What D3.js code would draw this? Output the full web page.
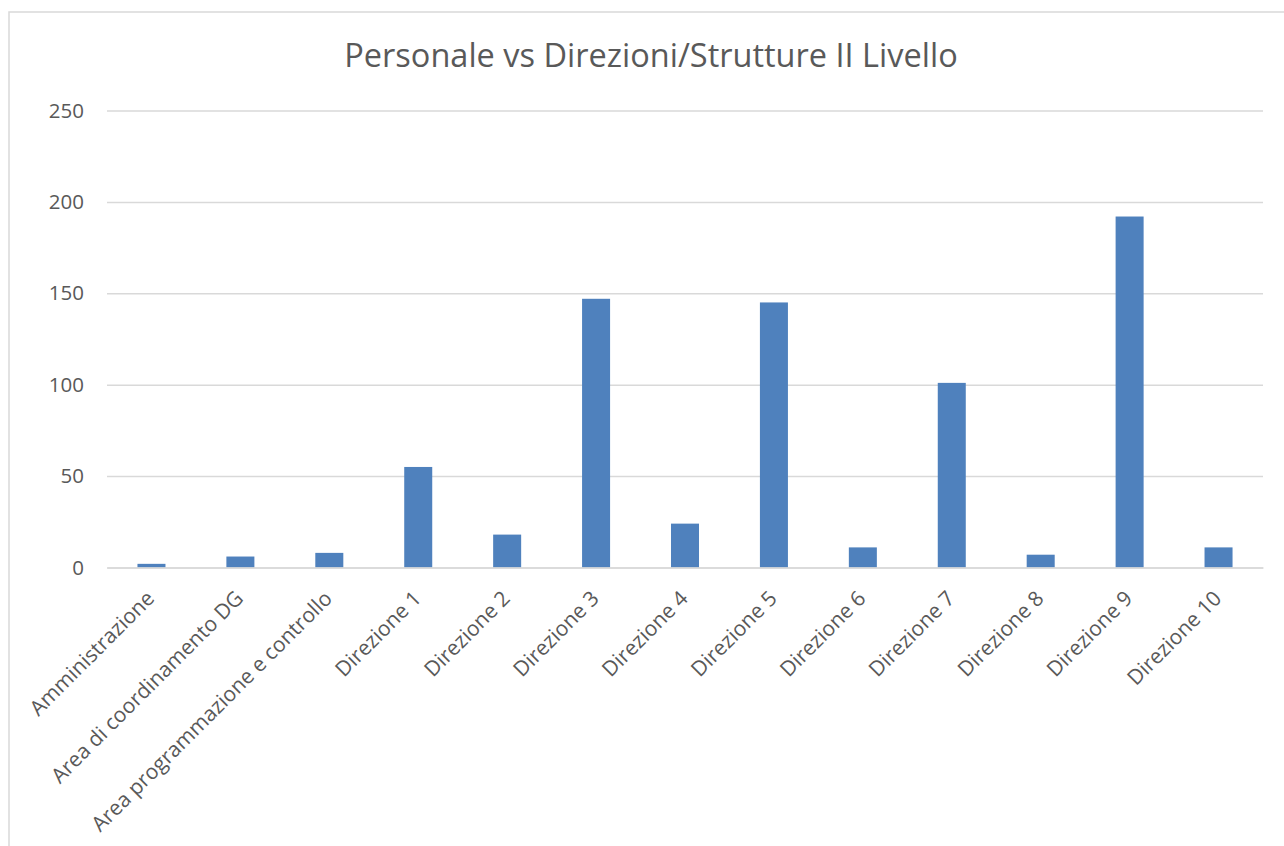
<!DOCTYPE html>
<html>
<head>
<meta charset="utf-8">
<script src="https://cdn.jsdelivr.net/npm/d3@7"></script>
<style>
  body { margin: 0; background: #fff; }
  text { font-family: "Open Sans", sans-serif; fill: #595959; }
</style>
</head>
<body>
<div id="app-chart"></div>
<script>
let categories = [
  "Amministrazione",
  "Area di coordinamento DG",
  "Area programmazione e controllo",
  "Direzione 1",
  "Direzione 2",
  "Direzione 3",
  "Direzione 4",
  "Direzione 5",
  "Direzione 6",
  "Direzione 7",
  "Direzione 8",
  "Direzione 9",
  "Direzione 10"
]

let personale = [2, 6, 8, 55, 18, 147, 24, 145, 11, 101, 7, 192, 11]

let yTicks = [0, 50, 100, 150, 200, 250]

let title = "Personale vs Direzioni/Strutture II Livello"

let svgW = 1284;
let svgH = 846;

let margin = {
  left: 107,
  right: 21,
  top: 110.5,
  bottom: 278.5
}

let chartW = svgW - margin.left - margin.right;
let chartH = svgH - margin.top - margin.bottom;

let data = categories.map((c, i) => ({ name: c, value: personale[i] }))

let x = d3.scaleBand()
  .domain(categories)
  .range([0, chartW])
  .paddingInner(0.685)
  .paddingOuter(0.3425)

let y = d3.scaleLinear()
  .domain([0, 250])
  .range([chartH, 0])

let svg = d3.select("#app-chart")
  .append("svg")
  .attr("width", svgW)
  .attr("height", svgH)

// chart area border (only top and left visible)
svg.append("rect")
  .attr("x", 9)
  .attr("y", 12)
  .attr("width", 1400)
  .attr("height", 1000)
  .attr("fill", "none")
  .attr("stroke", "#d9d9d9")
  .attr("stroke-width", 1.5)

svg.append("text")
  .attr("x", 651)
  .attr("y", 67)
  .attr("text-anchor", "middle")
  .style("font-size", "32.5px")
  .text(title)

let group = svg.append("g")
  .attr("transform", `translate(${margin.left},${margin.top})`)

// gridlines
let yAxis = d3.axisLeft(y)
  .tickValues(yTicks)
  .tickSize(-chartW)
  .tickPadding(23)

group.append("g")
  .attr("class", "y axis")
  .call(yAxis)
  .call(g => g.select(".domain").remove())
  .call(g => g.selectAll("line").attr("stroke", "#d9d9d9").attr("stroke-width", 1.5))
  .call(g => g.selectAll("text")
    .style("font-size", "20.5px")
    .style("font-family", "'Open Sans', sans-serif")
    .attr("fill", "#595959"))

group.selectAll("rect.bar")
  .data(data)
  .enter()
  .append("rect")
  .attr("class", "bar")
  .attr("x", d => x(d.name))
  .attr("y", d => y(d.value))
  .attr("width", x.bandwidth())
  .attr("height", d => chartH - y(d.value))
  .attr("fill", "#4f81bd")

let xAxis = d3.axisBottom(x)
  .tickSize(0)

group.append("g")
  .attr("class", "x axis")
  .attr("transform", `translate(0, ${chartH})`)
  .call(xAxis)
  .call(g => g.select(".domain").attr("stroke", "#d9d9d9").attr("stroke-width", 1.5))
  .selectAll("text")
  .style("font-size", "21px")
  .style("font-family", "'Open Sans', sans-serif")
  .attr("fill", "#595959")
  .attr("y", 0)
  .attr("dy", "0.35em")
  .attr("text-anchor", "end")
  .attr("transform", "translate(-1, 27) rotate(-45)")
</script>
</body>
</html>
